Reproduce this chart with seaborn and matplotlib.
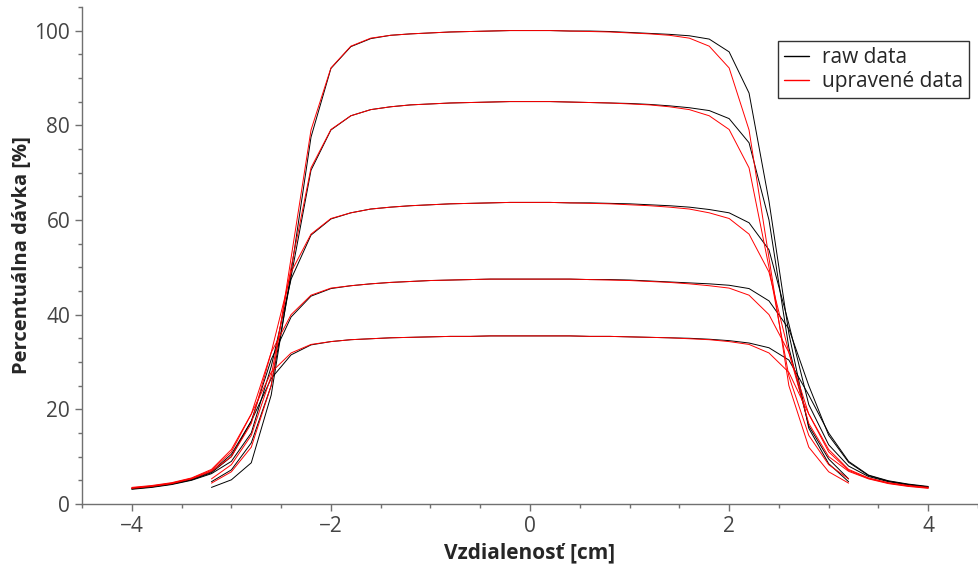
import pandas as pd
import numpy as np
import seaborn as sns
import matplotlib.pyplot as plt
from matplotlib.ticker import MultipleLocator

# positions (cm) - narrow and wide scans
x_narrow = [-3.2, -3.0, -2.8, -2.6, -2.4, -2.2, -2.0, -1.8, -1.6, -1.4, -1.2, -1.0,
            -0.8, -0.6, -0.4, -0.2, 0.0, 0.2, 0.4, 0.6, 0.8, 1.0, 1.2, 1.4, 1.6,
            1.8, 2.0, 2.2, 2.4, 2.6, 2.8, 3.0, 3.2]
x_wide = [-4.0, -3.8, -3.6, -3.4, -3.2, -3.0, -2.8, -2.6, -2.4, -2.2, -2.0, -1.8,
          -1.6, -1.4, -1.2, -1.0, -0.8, -0.6, -0.4, -0.2, 0.0, 0.2, 0.4, 0.6, 0.8,
          1.0, 1.2, 1.4, 1.6, 1.8, 2.0, 2.2, 2.4, 2.6, 2.8, 3.0, 3.2, 3.4, 3.6,
          3.8, 4.0]

# raw data
raw_100 = [3.5, 5.1, 8.7, 23.0, 49.0, 77.5, 92.0, 96.6, 98.3, 99.0, 99.3, 99.5,
           99.7, 99.8, 99.9, 100.0, 100.0, 100.0, 99.9, 99.9, 99.8, 99.6, 99.4, 99.2,
           98.9, 98.2, 95.5, 86.8, 64.0, 36.0, 16.0, 8.5, 4.7]
raw_85 = [4.7, 7.2, 12.9, 25.0, 48.0, 70.5, 79.0, 82.0, 83.3, 83.9, 84.3, 84.5,
          84.7, 84.8, 84.9, 85.0, 85.0, 85.0, 84.9, 84.8, 84.7, 84.6, 84.4, 84.1,
          83.7, 83.1, 81.4, 76.3, 60.0, 33.0, 16.5, 9.5, 5.3]
raw_64 = [3.1, 3.5, 4.1, 5.0, 6.4, 9.0, 15.0, 29.0, 47.5, 56.8, 60.2, 61.5, 62.3,
          62.7, 63.0, 63.2, 63.4, 63.5, 63.6, 63.7, 63.7, 63.7, 63.6, 63.6, 63.5,
          63.4, 63.2, 63.0, 62.7, 62.2, 61.5, 59.4, 53.7, 38.0, 21.0, 12.5, 8.0,
          5.8, 4.7, 4.0, 3.5]
raw_47 = [3.2, 3.6, 4.2, 5.1, 6.6, 10.0, 17.5, 30.5, 39.5, 43.9, 45.5, 46.1, 46.5,
          46.8, 47.0, 47.2, 47.3, 47.4, 47.5, 47.5, 47.5, 47.5, 47.5, 47.4, 47.4,
          47.3, 47.1, 46.9, 46.7, 46.5, 46.2, 45.5, 42.9, 37.0, 25.0, 14.5, 8.8,
          6.0, 4.8, 4.1, 3.6]
raw_35 = [3.3, 3.7, 4.3, 5.2, 6.8, 10.5, 17.5, 26.5, 31.5, 33.6, 34.3, 34.7, 34.9,
          35.1, 35.2, 35.3, 35.4, 35.4, 35.5, 35.5, 35.5, 35.5, 35.5, 35.4, 35.4,
          35.3, 35.2, 35.1, 35.0, 34.8, 34.5, 34.0, 33.0, 30.4, 23.0, 15.0, 9.0,
          6.1, 4.9, 4.2, 3.7]

# upravene (symetrizovane) data
adj_100 = [4.4, 6.8, 12.0, 25.0, 52.0, 79.0, 92.1, 96.7, 98.4, 99.0, 99.3, 99.5,
           99.7, 99.8, 99.9, 100.0, 100.0, 100.0, 99.9, 99.8, 99.7, 99.5, 99.3, 99.0,
           98.4, 96.7, 92.1, 79.0, 52.0, 25.0, 12.0, 6.8, 4.4]
adj_85 = [5.3, 8.3, 14.5, 27.0, 50.0, 71.0, 79.1, 82.0, 83.3, 83.9, 84.3, 84.5,
          84.7, 84.8, 84.9, 85.0, 85.0, 85.0, 84.9, 84.8, 84.7, 84.5, 84.3, 83.9,
          83.3, 82.0, 79.1, 71.0, 50.0, 27.0, 14.5, 8.3, 5.3]
adj_64 = [3.3, 3.7, 4.3, 5.3, 6.9, 10.0, 17.0, 32.0, 49.0, 57.0, 60.3, 61.5, 62.3,
          62.7, 63.0, 63.2, 63.4, 63.5, 63.6, 63.7, 63.7, 63.7, 63.6, 63.5, 63.4,
          63.2, 63.0, 62.7, 62.3, 61.5, 60.3, 57.0, 49.0, 32.0, 17.0, 10.0, 6.9,
          5.3, 4.3, 3.7, 3.3]
adj_47 = [3.4, 3.8, 4.4, 5.4, 7.1, 11.0, 19.0, 32.0, 40.0, 44.1, 45.6, 46.1, 46.5,
          46.8, 47.0, 47.2, 47.3, 47.4, 47.5, 47.5, 47.5, 47.5, 47.5, 47.4, 47.3,
          47.2, 47.0, 46.8, 46.5, 46.1, 45.6, 44.1, 40.0, 32.0, 19.0, 11.0, 7.1,
          5.4, 4.4, 3.8, 3.4]
adj_35 = [3.5, 3.9, 4.5, 5.5, 7.3, 11.5, 19.0, 27.8, 31.9, 33.7, 34.3, 34.7, 34.9,
          35.1, 35.2, 35.3, 35.4, 35.4, 35.5, 35.5, 35.5, 35.5, 35.5, 35.4, 35.4,
          35.3, 35.2, 35.1, 34.9, 34.7, 34.3, 33.7, 31.9, 27.8, 19.0, 11.5, 7.3,
          5.5, 4.5, 3.9, 3.5]

profiles = [
    ("raw data", "p100", x_narrow, raw_100),
    ("raw data", "p85", x_narrow, raw_85),
    ("raw data", "p64", x_wide, raw_64),
    ("raw data", "p47", x_wide, raw_47),
    ("raw data", "p35", x_wide, raw_35),
    ("upravené data", "p100", x_narrow, adj_100),
    ("upravené data", "p85", x_narrow, adj_85),
    ("upravené data", "p64", x_wide, adj_64),
    ("upravené data", "p47", x_wide, adj_47),
    ("upravené data", "p35", x_wide, adj_35),
]
rows = []
for typ, prof, xs, ys in profiles:
    for xv, yv in zip(xs, ys):
        rows.append({"x": xv, "dose": yv, "typ": typ, "profil": typ + prof})
df = pd.DataFrame(rows)

sns.set_style("ticks")
plt.rcParams['font.family'] = ['Open Sans', 'DejaVu Sans']

fig, ax = plt.subplots(figsize=(9.79, 5.74), dpi=100)
fig.subplots_adjust(left=0.0838, right=0.999, bottom=0.122, top=0.988)

sns.lineplot(data=df, x="x", y="dose", hue="typ", units="profil", estimator=None,
             sort=False, palette={"raw data": "black", "upravené data": "red"},
             linewidth=0.7, ax=ax)

ax.set_xlim(-4.5, 4.5)
ax.set_ylim(0, 105)
ax.xaxis.set_major_locator(MultipleLocator(2))
ax.xaxis.set_minor_locator(MultipleLocator(0.5))
ax.yaxis.set_major_locator(MultipleLocator(20))
ax.yaxis.set_minor_locator(MultipleLocator(5))
ax.tick_params(which="major", length=5, width=1, color="#707070",
               labelsize=15, labelcolor="#444444")
ax.tick_params(which="minor", length=3, width=1, color="#707070")
for s in ["left", "bottom"]:
    ax.spines[s].set_color("#707070")
    ax.spines[s].set_linewidth(1)
sns.despine(ax=ax)

ax.set_xlabel("Vzdialenosť [cm]", fontsize=15, fontweight="bold", labelpad=4)
ax.set_ylabel("Percentuálna dávka [%]", fontsize=14.5, fontweight="bold", labelpad=1.5)

leg = ax.legend(loc="upper right", bbox_to_anchor=(0.99, 0.932), borderaxespad=0,
                fontsize=15, frameon=True, fancybox=False, framealpha=1,
                handlelength=1.2, handletextpad=0.6, borderpad=0.3,
                labelspacing=0.15)
leg.get_frame().set_edgecolor("#333333")
leg.get_frame().set_linewidth(1)
for line in leg.get_lines():
    line.set_linewidth(1)

plt.savefig("out.png", dpi=100)
